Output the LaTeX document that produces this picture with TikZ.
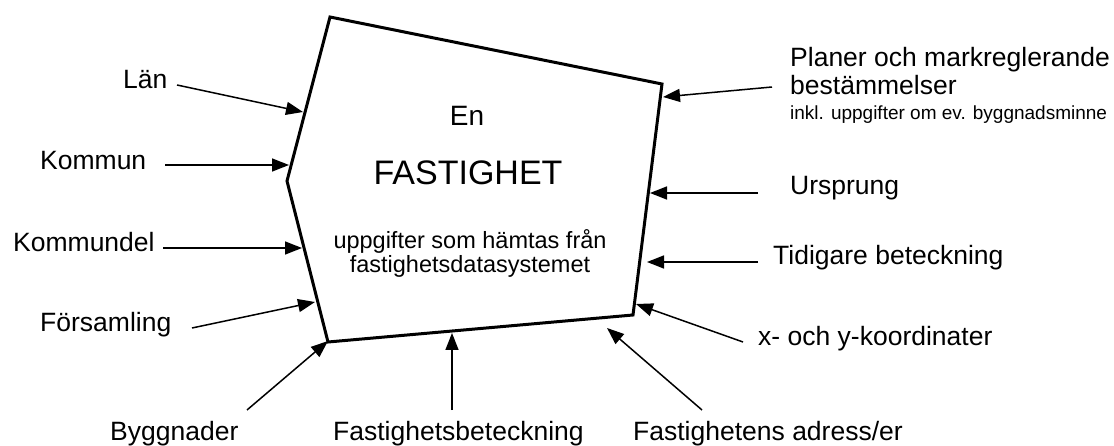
\documentclass[tikz,border=0pt]{standalone}
\usepackage{fontspec}
\setmainfont{Liberation Sans}
\usetikzlibrary{arrows.meta}
\begin{document}
\begin{tikzpicture}[x=1pt,y=-1pt,
  lbl/.style={inner sep=0pt, anchor=base west, font=\fontsize{26.5}{30}\selectfont},
  ctr/.style={inner sep=0pt, anchor=base},
  feed/.style={line width=1.5pt, -{Triangle[length=17pt,width=13pt]}},
  parcel/.style={line width=3pt, line join=miter}]
\useasboundingbox[fill=white] (0,0) rectangle (1114,446);
% polygon
\coordinate (A) at (330,17);
\coordinate (B) at (662,84);
\coordinate (C) at (633,315);
\coordinate (D) at (328,342);
\coordinate (E) at (287,181);
\draw[parcel] (A) -- (B) -- (C) -- (D) -- (E) -- cycle;
% centre text
\node[ctr, font=\fontsize{28}{32}\selectfont] (en) at (467,126) {En};
\node[ctr, font=\fontsize{34}{38}\selectfont] (fast) at (468,185) {FASTIGHET};
\node[ctr, font=\fontsize{23.5}{26}\selectfont] (upp1) at (470,249) {uppgifter som hämtas från};
\node[ctr, font=\fontsize{23.5}{26}\selectfont] (upp2) at (470,273) {fastighetsdatasystemet};
% labels
\node[lbl] (lan) at (123,89) {Län};
\node[lbl] (kommun) at (40,170) {Kommun};
\node[lbl] (kdel) at (13,252) {Kommundel};
\node[lbl] (fors) at (40,332) {Församling};
\node[lbl] (bygg) at (110,440) {Byggnader};
\node[lbl] (fbet) at (333,440) {Fastighetsbeteckning};
\node[lbl] (fadr) at (633,440) {Fastighetens adress/er};
\node[lbl] (xy) at (758,345) {x- och y-koordinater};
\node[lbl] (tid) at (773,265) {Tidigare beteckning};
\node[lbl] (urs) at (790,195) {Ursprung};
\node[lbl] (plan) at (790,67) {Planer och markreglerande};
\node[lbl] (best) at (790,95) {bestämmelser};
\node[inner sep=0pt, anchor=base west, font=\fontsize{19}{22}\selectfont] (inkl) at (790,120) {inkl. uppgifter om ev. byggnadsminne};
% tails
\coordinate (tLan) at (177,85);
\coordinate (tKom) at (165,165);
\coordinate (tKdel) at (163,248);
\coordinate (tFors) at (192,328);
\coordinate (tBygg) at (247,410);
\coordinate (tFbet) at (452,410);
\coordinate (tFadr) at (702,410);
\coordinate (tXy) at (743,342);
\coordinate (tTid) at (758,262);
\coordinate (tUrs) at (758,193);
\coordinate (tPlan) at (772,87);
% tips
\coordinate (hLan) at (303,112);
\coordinate (hKom) at (289,165);
\coordinate (hKdel) at (302,248);
\coordinate (hFors) at (315,302);
\coordinate (hBygg) at (328,341);
\coordinate (hFbet) at (452,333);
\coordinate (hFadr) at (607,328);
\coordinate (hXy) at (636,304);
\coordinate (hTid) at (647,262);
\coordinate (hUrs) at (650,193);
\coordinate (hPlan) at (663,97);
\foreach \s/\t in {tLan/hLan,tKom/hKom,tKdel/hKdel,tFors/hFors,tBygg/hBygg,tFbet/hFbet,tFadr/hFadr,tXy/hXy,tTid/hTid,tUrs/hUrs,tPlan/hPlan}
  \draw[feed] (\s) -- (\t);
\end{tikzpicture}
\end{document}
